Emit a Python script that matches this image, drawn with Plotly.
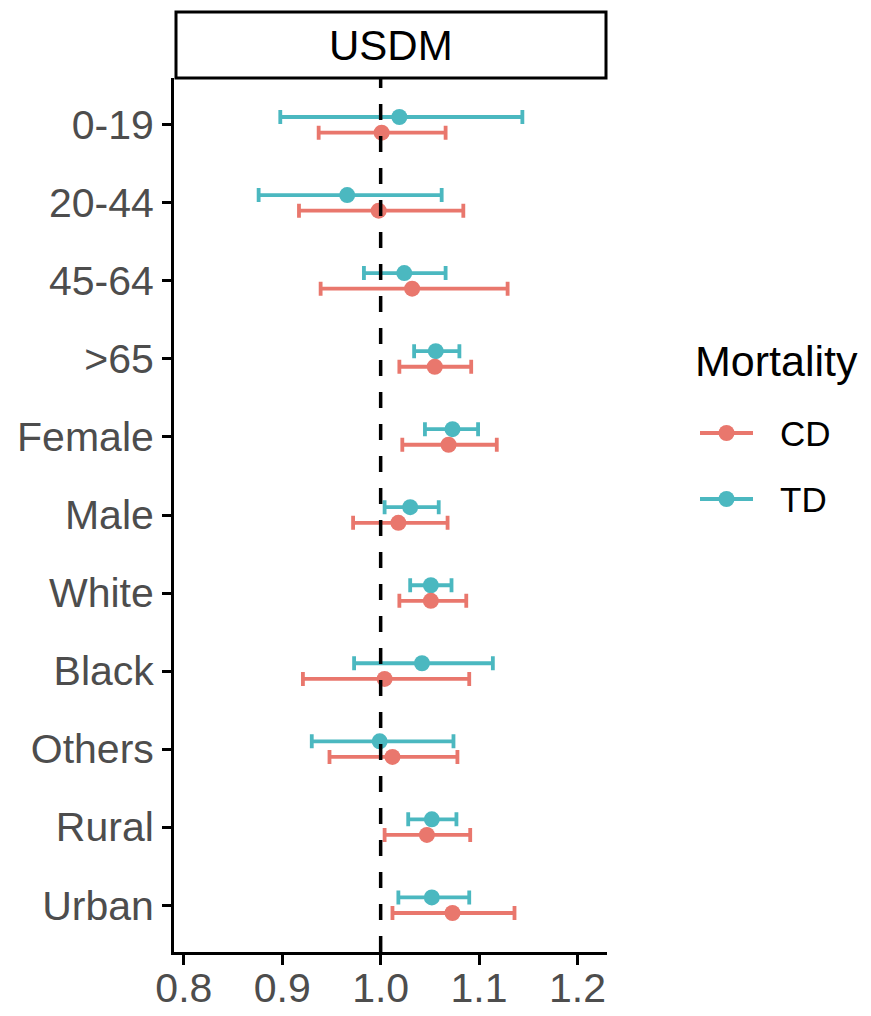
import plotly.graph_objects as go

# Subgroups, top to bottom
groups = ["0-19", "20-44", "45-64", ">65", "Female", "Male",
          "White", "Black", "Others", "Rural", "Urban"]

# Relative risk with 95% CI, cardiovascular (CD) and total (TD) mortality
cd_rr = [1.001, 0.998, 1.032, 1.055, 1.069, 1.018, 1.051, 1.004, 1.012, 1.047, 1.073]
cd_lo = [0.937, 0.917, 0.939, 1.019, 1.022, 0.972, 1.019, 0.921, 0.948, 1.004, 1.012]
cd_hi = [1.066, 1.084, 1.129, 1.092, 1.118, 1.068, 1.087, 1.090, 1.078, 1.091, 1.136]

td_rr = [1.019, 0.966, 1.024, 1.056, 1.073, 1.030, 1.051, 1.042, 0.999, 1.052, 1.052]
td_lo = [0.898, 0.876, 0.983, 1.034, 1.045, 1.004, 1.030, 0.973, 0.930, 1.028, 1.018]
td_hi = [1.144, 1.062, 1.066, 1.080, 1.099, 1.059, 1.072, 1.114, 1.074, 1.077, 1.090]

x_ticks = [0.8, 0.9, 1.0, 1.1, 1.2]
x_tick_text = ["0.8", "0.9", "1.0", "1.1", "1.2"]

CD_COLOR = "#E9776D"
TD_COLOR = "#4BB8C0"
FONT = "Liberation Sans"
W, H = 871, 1016

# pixel -> paper helpers
def px(x):
    return x / W

def py(y):
    return 1 - y / H

DODGE = 0.1
ypos = list(range(len(groups)))

def series(rr, lo, hi, offset, color, name):
    return go.Scatter(
        x=rr,
        y=[i + offset for i in ypos],
        mode="markers",
        name=name,
        showlegend=False,
        marker=dict(color=color, size=16),
        error_x=dict(
            type="data", symmetric=False,
            array=[h - r for h, r in zip(hi, rr)],
            arrayminus=[r - l for r, l in zip(rr, lo)],
            color=color, thickness=3.8, width=7,
        ),
        xaxis="x", yaxis="y",
    )

fig = go.Figure()
fig.add_trace(series(td_rr, td_lo, td_hi, -DODGE, TD_COLOR, "TD"))
fig.add_trace(series(cd_rr, cd_lo, cd_hi, DODGE, CD_COLOR, "CD"))

# Legend keys drawn on a small helper axis
legend_items = [("CD", CD_COLOR, 1), ("TD", TD_COLOR, 0)]
for label, color, lv in legend_items:
    fig.add_trace(go.Scatter(x=[0, 1], y=[lv, lv], mode="lines",
                             line=dict(color=color, width=3.8),
                             showlegend=False, hoverinfo="skip",
                             xaxis="x2", yaxis="y2"))
    fig.add_trace(go.Scatter(x=[0.5], y=[lv], mode="markers",
                             marker=dict(color=color, size=16),
                             showlegend=False, hoverinfo="skip",
                             xaxis="x2", yaxis="y2"))

axis_common = dict(showgrid=False, zeroline=False, showline=True,
                   linecolor="black", linewidth=3, ticks="outside",
                   tickcolor="black", tickwidth=2.5, automargin=False,
                   tickfont=dict(family=FONT, size=41, color="#4D4D4D"))

fig.update_layout(
    width=W, height=H,
    margin=dict(l=0, r=0, t=0, b=0),
    paper_bgcolor="white", plot_bgcolor="white",
    showlegend=False,
    xaxis=dict(domain=[px(174), px(607)], range=[0.79, 1.23],
               tickvals=x_ticks, ticktext=x_tick_text, ticklen=10,
               ticklabelstandoff=-12, anchor="y", **axis_common),
    yaxis=dict(domain=[py(952), py(78)], range=[10.6, -0.6],
               tickvals=ypos, ticktext=groups, ticklen=9,
               ticklabelstandoff=0, anchor="x", **axis_common),
    xaxis2=dict(domain=[px(700), px(753)], range=[0, 1], visible=False,
                anchor="y2"),
    yaxis2=dict(domain=[py(532), py(400)], range=[-0.5, 1.5], visible=False,
                anchor="x2"),
)

# Reference line at RR = 1
fig.add_shape(type="line", xref="x", yref="y domain", x0=1, x1=1, y0=0, y1=1,
              line=dict(color="black", width=3.5, dash="16px,16px"), layer="above")

# Facet strip
fig.add_shape(type="rect", xref="paper", yref="paper",
              x0=px(176), x1=px(606), y0=py(78), y1=py(12),
              line=dict(color="black", width=3), fillcolor="white")
fig.add_annotation(text="USDM", xref="paper", yref="paper",
                   x=px(391), y=py(45), xanchor="center", yanchor="middle",
                   showarrow=False,
                   font=dict(family=FONT, size=42, color="black"))

# Legend title and labels
fig.add_annotation(text="Mortality", xref="paper", yref="paper",
                   x=px(693), y=py(361), xanchor="left", yanchor="middle",
                   showarrow=False,
                   font=dict(family=FONT, size=43, color="black"))
for label, y in [("CD", 433), ("TD", 499)]:
    fig.add_annotation(text=label, xref="paper", yref="paper",
                       x=px(778), y=py(y), xanchor="left", yanchor="middle",
                       showarrow=False,
                       font=dict(family=FONT, size=35, color="black"))

fig.write_html("out.html")
